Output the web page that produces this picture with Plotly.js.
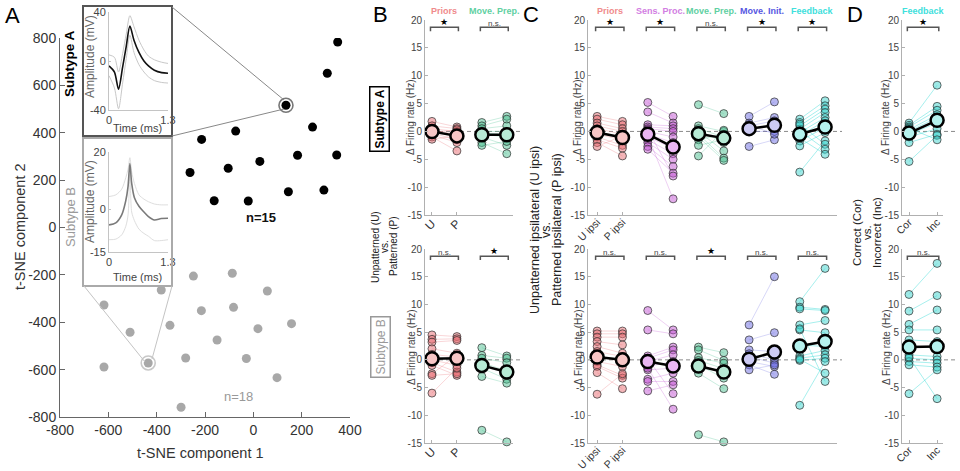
<!DOCTYPE html>
<html><head><meta charset="utf-8">
<script src="https://cdn.plot.ly/plotly-3.0.1.min.js"></script>
<style>html,body{margin:0;padding:0;background:#fff}#chart{width:960px;height:471px}</style>
</head><body><div id="chart"></div>
<script>
// ================= DATA =================
// Panel A: t-SNE embedding
const subtypeA_x = [349, 306, 135, -214, -73, 245, -262, -104, 27, 183, 345, -162, -21, 145, 292];
const subtypeA_y = [783, 651, 516, 372, 407, 424, 232, 250, 279, 305, 306, 113, 112, 151, 158];
const subtypeB_x = [-248, -87, -381, 58, -618, -215, -82, -345, 158, -510, 19, -150, -435, -280, -29, -618, 98, -299];
const subtypeB_y = [-205, -193, -264, -268, -327, -351, -337, -413, -406, -442, -427, -475, -572, -551, -553, -589, -634, -759];
const exampleA_xy = [135, 516];
const exampleB_xy = [-435, -572];
const A_xticks = [-800, -600, -400, -200, 0, 200, 400];
const A_xtickText = ['-800', '-600', '-400', '-200', '0', '200', '400'];
const A_yticks = [-800, -600, -400, -200, 0, 200, 400, 600, 800];
const A_ytickText = ['-800', '-600', '-400', '-200', '0', '200', '400', '600', '800'];

// Inset waveforms (time in ms, amplitude in mV)
const waveA_t     = [0, 0.12, 0.21, 0.30, 0.38, 0.46, 0.55, 0.66, 0.77, 0.87, 1.00, 1.16, 1.30];
const waveA_mean  = [-4, -9, -23, -5, 12, 28.5, 17, 7, 0, -4, -7.5, -9.5, -10];
const waveA_upper = [5, 3, -9, 6, 22, 37, 28, 17, 9, 4, 1, -1, -2];
const waveA_lower = [-12, -22, -39, -18, 2, 21, 7, -3, -9, -13, -16, -17.5, -18];
const waveB_t     = [0, 0.15, 0.28, 0.37, 0.42, 0.46, 0.50, 0.56, 0.66, 0.77, 0.87, 1.00, 1.15, 1.30];
const waveB_mean  = [-5.5, -4.8, -2, 3, 8, 16, 9, 4, 1, -1, -2.6, -3.8, -3.3, -3.2];
const waveB_upper = [4.4, 5, 7, 11, 14, 18, 13, 9, 5, 3.5, 2.6, 1.8, 1.5, 1.5];
const waveB_lower = [-10.7, -10.5, -9, -6, -2, 12.5, -1, -4, -7, -8.5, -9.5, -11, -11, -10.7];
const waveA_yticks = [-40, 0, 40], waveA_ytickText = ['-40', '0', '40'];
const waveB_yticks = [-15, 0, 20], waveB_ytickText = ['-15', '0', '20'];
const wave_xticks = [0, 1.3], wave_xtickText = ['0', '1.3'];

// Firing-rate tick labels
const rate_ticks = [-15, -10, -5, 0, 5, 10, 15, 20];
const rate_tickText = ['-15', '-10', '-5', '0', '5', '10', '15', '20'];
const catB = ['U', 'P'];
const catC = ['U ipsi', 'P ipsi'];
const catD = ['Cor', 'Inc'];

// Panel B, Subtype A (top)
const bA_priors_U = [1.8, 1.0, 0.5, 0.2, 0, -0.3, -0.6, -1.0, -1.4, -0.2];
const bA_priors_P = [0.8, 0.5, 0.0, -0.5, -1.0, -1.5, -2.0, -3.5, -0.8, 0.3];
const bA_mp_U = [1.6, 1.0, 0.5, 0, -0.5, -1.0, -2.0, -2.5, -0.3];
const bA_mp_P = [2.7, 2.2, 1.0, 0, -1.0, -2.5, -4.0, -1.8, -0.5];
const bA_means = [[0, -0.8], [-0.6, -0.6]];
const bA_sig = ['*', 'n.s.'];
// Panel B, Subtype B (bottom)
const bB_priors_U = [4.5, 3.7, 3.2, 2.0, 1.0, 0.5, 0, -0.5, -1.0, -2.5, -2.8, -6.0];
const bB_priors_P = [4.2, 3.8, 3.5, 1.2, 0.5, 0, -1.0, -2.2, -2.8, 0.8, -2.5, -1.5];
const bB_mp_U = [2.2, 0.8, 0.3, -0.5, -1.5, -3.0, -12.7];
const bB_mp_P = [0.7, 0.3, -0.5, -2.0, -3.5, -4.2, -14.8];
const bB_means = [[0.2, 0.3], [-1.0, -2.2]];
const bB_sig = ['n.s.', '*'];

// Panel C, Subtype A (top)
const cA_priors_U = [2.7, 2.2, 1.5, 1.0, 0.5, 0, -0.5, -1.0, -1.5, -2.0, -2.7];
const cA_priors_P = [1.8, 1.2, 0.5, 0, -0.5, -1.0, -1.5, -2.5, -3.0, -4.4, -0.8];
const cA_sens_U = [5.2, 3.5, 1.2, 0.8, 0.5, 0, -0.5, -1.0, -1.5, -2.0, -2.7, -3.2, 0.3, -0.8];
const cA_sens_P = [2.7, 1.5, 1.0, 0.5, 0, -1.0, -2.0, -3.0, -4.0, -5.0, -6.3, -7.5, -8.0, -12.1];
const cA_mp_U = [4.8, 1.0, 0.5, 0.2, 0, -0.5, -1.0, -1.5, -2.5, -4.4];
const cA_mp_P = [3.2, 0, -1.0, -2.0, -3.5, -4.8, -5.2, -0.5, -1.5, 0.2];
const cA_mi_U = [2.7, 1.5, 1.0, 0.5, 0, -2.7, 1.2];
const cA_mi_P = [5.3, 2.5, 1.9, 1.0, 0, -1.5, -0.5];
const cA_fb_U = [2.2, 1.6, 1.0, 0.4, -0.2, -0.8, -1.7, -2.6, -7.3, 1.3, 0.1, -1.2];
const cA_fb_P = [5.5, 4.6, 4.0, 3.4, 2.5, 1.9, 0.7, -0.2, -1.7, -2.3, -3.2, -4.1];
const cA_means = [[-0.2, -1.1], [-0.5, -2.8], [-0.4, -1.2], [0.5, 1.1], [-0.5, 0.8]];
const cA_sig = ['*', '*', 'n.s.', '*', '*'];
// Panel C, Subtype B (bottom)
const cB_priors_U = [5.2, 4.7, 4.1, 3.3, 2.4, 1.5, 0.6, -0.3, -0.9, -1.2, -2.3, -6.2];
const cB_priors_P = [5.2, 4.7, 4.1, 2.7, 1.2, 0.6, -0.3, -1.2, -2.8, -3.3, -5.2, -2.5];
const cB_sens_U = [8.9, 5.4, 0.7, 0.3, -0.3, -1.2, -1.8, -3.5, -3.9, -5.6, 0.2, -1.5];
const cB_sens_P = [5.4, 4.7, 2.3, 1.8, 0.9, -0.3, -1.5, -2.4, -3.9, -4.5, -6.1, -8.9];
const cB_mp_U = [2.3, 1.8, 0.4, -0.1, -0.9, -2.4, -13.5];
const cB_mp_P = [1.3, -0.1, -0.6, -1.6, -3.3, -5.2, -14.8];
const cB_mi_U = [6.3, 3.6, 1.8, 1.1, 0.6, -0.3, -0.9, -1.8];
const cB_mi_P = [15.0, 4.9, 1.5, 0, -0.6, -1.2, -2.6, -0.9];
const cB_fb_U = [10.5, 9.5, 9.2, 6.3, 5.4, 2.7, 0.7, 0.3, -0.1, -8.2, 0.1, 5.6];
const cB_fb_P = [16.5, 9.1, 8.9, 7.1, 4.9, 2.4, 1.7, 0.9, 0.3, -0.3, -2.4, -3.9];
const cB_means = [[0.5, 0.0], [-0.3, -1.1], [-1.1, -2.2], [0.1, 1.4], [2.5, 3.3]];
const cB_sig = ['n.s.', 'n.s.', '*', 'n.s.', 'n.s.'];

// Panel D
const dA_fb_U = [1.5, 1.1, 0.8, 0.3, 0, -0.5, -1.0, -2.0, -5.4, 0.6];
const dA_fb_P = [8.3, 4.5, 3.8, 3.0, 2.5, 1.5, 0.5, -0.5, -0.7, -1.5];
const dA_means = [[-0.3, 2.0]];
const dA_sig = ['*'];
const dB_fb_U = [11.8, 8.8, 6.4, 5.4, 3.6, 2.3, 0.9, 0.3, -0.3, -0.9, -6.1, 0.5];
const dB_fb_P = [17.4, 11.6, 9.0, 5.4, 3.3, 2.3, 0.6, 0, -0.6, -1.3, -1.8, -7.0];
const dB_means = [[2.3, 2.4]];
const dB_sig = ['n.s.'];

const groupLabels = {priors: 'Priors', sens: 'Sens. Proc.', mp: 'Move. Prep.', mi: 'Move. Init.', fb: 'Feedback'};

// ================= STYLE =================
const STYLE = {
  priors: {pt: 'rgba(232,108,114,0.5)', line: 'rgba(235,120,125,0.30)', mean: '#f7c6c6', label: '#f08a8c'},
  sens:   {pt: 'rgba(196,88,212,0.5)',  line: 'rgba(200,100,215,0.30)', mean: '#e9b6f2', label: '#d27de2'},
  mp:     {pt: 'rgba(78,192,146,0.5)',  line: 'rgba(80,195,150,0.30)',  mean: '#b7ead5', label: '#5fd0a2'},
  mi:     {pt: 'rgba(108,108,226,0.5)', line: 'rgba(110,110,225,0.28)', mean: '#cccaf3', label: '#5656e2'},
  fb:     {pt: 'rgba(62,212,206,0.5)',  line: 'rgba(60,220,215,0.45)',  mean: '#b5f2ee', label: '#40e0dc'}
};
const FONT = 'Liberation Sans, Arial, Helvetica, sans-serif';
const W = 960, H = 471;
const PX = x => x / W;
const PY = y => 1 - y / H;

const traces = [], shapes = [], annotations = [];
const layout = {
  width: W, height: H, margin: {l: 0, r: 0, t: 0, b: 0},
  paper_bgcolor: '#fff', plot_bgcolor: 'rgba(0,0,0,0)',
  showlegend: false, font: {family: FONT, color: '#333'}, hovermode: false
};
function ax(extra) {
  return Object.assign({showgrid: false, zeroline: false, showline: true, ticks: 'inside',
    automargin: false, fixedrange: true, tickmode: 'array'}, extra);
}
function ann(x, y, text, size, color, extra) {
  annotations.push(Object.assign({xref: 'paper', yref: 'paper', x: PX(x), y: PY(y), text: text,
    showarrow: false, font: {family: FONT, size: size, color: color}, xanchor: 'center', yanchor: 'middle'}, extra || {}));
}

// ================= PANEL A =================
layout.xaxis = ax({domain: [PX(60), PX(350)], range: [-800, 400], anchor: 'y', tickvals: A_xticks, ticktext: A_xtickText,
  linecolor: '#666', tickcolor: '#666', ticklen: 5, tickfont: {size: 14, color: '#333'}});
layout.yaxis = ax({domain: [PY(417), PY(38)], range: [-800, 800], anchor: 'x', tickvals: A_yticks, ticktext: A_ytickText,
  linecolor: '#666', tickcolor: '#666', ticklen: 5, tickfont: {size: 14, color: '#333'}});

traces.push({type: 'scatter', mode: 'markers', x: subtypeB_x, y: subtypeB_y, xaxis: 'x', yaxis: 'y',
  marker: {size: 9, color: '#a8a8a8'}});
traces.push({type: 'scatter', mode: 'markers', x: subtypeA_x, y: subtypeA_y, xaxis: 'x', yaxis: 'y',
  marker: {size: 9, color: '#000'}});
traces.push({type: 'scatter', mode: 'markers', x: [exampleA_xy[0]], y: [exampleA_xy[1]], xaxis: 'x', yaxis: 'y',
  marker: {size: 14, symbol: 'circle-open', color: '#777', line: {width: 1.6, color: '#777'}}});
traces.push({type: 'scatter', mode: 'markers', x: [exampleB_xy[0]], y: [exampleB_xy[1]], xaxis: 'x', yaxis: 'y',
  marker: {size: 14, symbol: 'circle-open', color: '#c8c8c8', line: {width: 1.6, color: '#c8c8c8'}}});

ann(200, 453, 't-SNE component 1', 14.5, '#333');
ann(20, 227, 't-SNE component 2', 14.5, '#333', {textangle: -90});
ann(261, 217, '<b>n=15</b>', 13, '#111');
ann(238, 396, 'n=18', 13, '#999');

// Insets
layout.xaxis2 = ax({domain: [PX(109), PX(168)], range: [0, 1.3], anchor: 'y2', tickvals: wave_xticks, ticktext: wave_xtickText,
  linecolor: '#c4c4c4', tickcolor: '#c4c4c4', ticklen: 2, tickfont: {size: 11, color: '#444'}});
layout.yaxis2 = ax({domain: [PY(110), PY(12)], range: [-40, 40], anchor: 'x2', tickvals: waveA_yticks, ticktext: waveA_ytickText,
  linecolor: '#c4c4c4', tickcolor: '#c4c4c4', ticklen: 2, tickfont: {size: 11, color: '#444'}});
layout.xaxis3 = ax({domain: [PX(109), PX(168)], range: [0, 1.3], anchor: 'y3', tickvals: wave_xticks, ticktext: wave_xtickText,
  linecolor: '#c4c4c4', tickcolor: '#c4c4c4', ticklen: 2, tickfont: {size: 11, color: '#444'}});
layout.yaxis3 = ax({domain: [PY(252), PY(152)], range: [-15, 20], anchor: 'x3', tickvals: waveB_yticks, ticktext: waveB_ytickText,
  linecolor: '#c4c4c4', tickcolor: '#c4c4c4', ticklen: 2, tickfont: {size: 11, color: '#444'}});

[[waveA_upper, '#c8c8c8', 1], [waveA_lower, '#c8c8c8', 1], [waveA_mean, '#111', 1.6]].forEach(([y, c, w]) =>
  traces.push({type: 'scatter', mode: 'lines', x: waveA_t, y: y, xaxis: 'x2', yaxis: 'y2', line: {color: c, width: w, shape: 'spline', smoothing: 0.8}}));
[[waveB_upper, '#dedede', 1], [waveB_lower, '#dedede', 1], [waveB_mean, '#7a7a7a', 1.6]].forEach(([y, c, w]) =>
  traces.push({type: 'scatter', mode: 'lines', x: waveB_t, y: y, xaxis: 'x3', yaxis: 'y3', line: {color: c, width: w, shape: 'spline', smoothing: 0.8}}));

shapes.push({type: 'rect', xref: 'paper', yref: 'paper', x0: PX(83), x1: PX(172), y0: PY(136), y1: PY(6), line: {color: '#555', width: 2}});
shapes.push({type: 'rect', xref: 'paper', yref: 'paper', x0: PX(83), x1: PX(172), y0: PY(286), y1: PY(138), line: {color: '#aaa', width: 2}});
shapes.push({type: 'line', xref: 'paper', yref: 'paper', x0: PX(172), y0: PY(7), x1: PX(284), y1: PY(100), line: {color: '#888', width: 1}});
shapes.push({type: 'line', xref: 'paper', yref: 'paper', x0: PX(172), y0: PY(136), x1: PX(284), y1: PY(109), line: {color: '#888', width: 1}});
shapes.push({type: 'line', xref: 'paper', yref: 'paper', x0: PX(84), y0: PY(286), x1: PX(145), y1: PY(362), line: {color: '#c4c4c4', width: 1}});
shapes.push({type: 'line', xref: 'paper', yref: 'paper', x0: PX(172), y0: PY(286), x1: PX(152), y1: PY(359), line: {color: '#c4c4c4', width: 1}});

ann(70, 64, '<b>Subtype A</b>', 13.5, '#000', {textangle: -90});
ann(70, 217, 'Subtype B', 13, '#9a9a9a', {textangle: -90});
ann(90, 57, 'Amplitude (mV)', 12, '#666', {textangle: -90});
ann(90, 202, 'Amplitude (mV)', 12, '#666', {textangle: -90});
ann(137, 128, 'Time (ms)', 11, '#444');
ann(137, 277, 'Time (ms)', 11, '#444');

// ================= PANELS B, C, D =================
function rateAxes(xn, yn, xd, yd, xr, cats, catSize) {
  const xi = xn.replace('xaxis', 'x'), yi = yn.replace('yaxis', 'y');
  layout[xn] = ax({domain: [PX(xd[0]), PX(xd[1])], range: xr, anchor: yi, tickvals: [1, 2], ticktext: cats,
    tickangle: -45, ticklabelstandoff: -4, linecolor: '#b0b0b0', tickcolor: '#b0b0b0', ticklen: 3,
    tickfont: {size: catSize, color: '#333'}});
  layout[yn] = ax({domain: [PY(yd[1]), PY(yd[0])], range: [-15, 20], anchor: xi, tickvals: rate_ticks, ticktext: rate_tickText,
    linecolor: '#b0b0b0', tickcolor: '#b0b0b0', ticklen: 3, tickfont: {size: 10, color: '#444'}});
}
function pairPanel(xa, ya, keys, data, means, sig, top, zeroX) {
  shapes.push({type: 'line', xref: 'paper', yref: ya, x0: PX(zeroX[0]), x1: PX(zeroX[1]), y0: 0, y1: 0, layer: 'below',
    line: {color: '#8a8a8a', width: 1, dash: '4px,3px'}});
  keys.forEach((key, i) => {
    const st = STYLE[key];
    const U = data[i][0], P = data[i][1];
    const xu = 2 * i + 1, xp = 2 * i + 2;
    const lx = [], ly = [];
    U.forEach((u, j) => { lx.push(xu, xp, null); ly.push(u, P[j], null); });
    traces.push({type: 'scatter', mode: 'lines', x: lx, y: ly, xaxis: xa, yaxis: ya, line: {color: st.line, width: 1}, cliponaxis: false});
    traces.push({type: 'scatter', mode: 'markers', x: U.map(() => xu).concat(P.map(() => xp)), y: U.concat(P), xaxis: xa, yaxis: ya,
      cliponaxis: false, marker: {size: 8, color: st.pt, line: {color: 'rgba(45,45,45,0.7)', width: 1}}});
    traces.push({type: 'scatter', mode: 'lines+markers', x: [xu, xp], y: means[i], xaxis: xa, yaxis: ya, cliponaxis: false,
      line: {color: '#000', width: 2.5}, marker: {size: 13, color: st.mean, line: {color: '#000', width: 2.5}}});
    shapes.push({type: 'path', xref: xa, yref: ya, path: `M ${xu - 0.06},18.0 L ${xu - 0.06},18.7 L ${xp + 0.06},18.7 L ${xp + 0.06},18.0`,
      line: {color: '#555', width: 1.5}});
    annotations.push({xref: xa, yref: ya, x: (xu + xp) / 2, y: 18.7, yanchor: 'bottom', xanchor: 'center', showarrow: false,
      text: sig[i] === '*' ? '★' : 'n.s.', yshift: sig[i] === '*' ? -2 : -3,
      font: {family: FONT, size: sig[i] === '*' ? 9 : 8, color: sig[i] === '*' ? '#000' : '#444'}});
    if (top) annotations.push({xref: xa, yref: 'paper', x: (xu + xp) / 2, y: PY(11), xanchor: 'center', yanchor: 'middle',
      showarrow: false, text: '<b>' + groupLabels[key] + '</b>', font: {family: FONT, size: 9, color: st.label}});
  });
}

// B
rateAxes('xaxis4', 'yaxis4', [425, 513], [20, 215], [0.72, 4.25], catB, 12);
rateAxes('xaxis5', 'yaxis5', [425, 513], [249, 443], [0.72, 4.25], catB, 12);
pairPanel('x4', 'y4', ['priors', 'mp'], [[bA_priors_U, bA_priors_P], [bA_mp_U, bA_mp_P]], bA_means, bA_sig, true, [425, 520]);
pairPanel('x5', 'y5', ['priors', 'mp'], [[bB_priors_U, bB_priors_P], [bB_mp_U, bB_mp_P]], bB_means, bB_sig, false, [425, 520]);
// C
rateAxes('xaxis6', 'yaxis6', [588, 837], [20, 215], [0.64, 10.47], catC, 10.5);
rateAxes('xaxis7', 'yaxis7', [588, 837], [249, 443], [0.64, 10.47], catC, 10.5);
const cKeys = ['priors', 'sens', 'mp', 'mi', 'fb'];
pairPanel('x6', 'y6', cKeys, [[cA_priors_U, cA_priors_P], [cA_sens_U, cA_sens_P], [cA_mp_U, cA_mp_P], [cA_mi_U, cA_mi_P], [cA_fb_U, cA_fb_P]], cA_means, cA_sig, true, [588, 842]);
pairPanel('x7', 'y7', cKeys, [[cB_priors_U, cB_priors_P], [cB_sens_U, cB_sens_P], [cB_mp_U, cB_mp_P], [cB_mi_U, cB_mi_P], [cB_fb_U, cB_fb_P]], cB_means, cB_sig, false, [588, 842]);
// D
rateAxes('xaxis8', 'yaxis8', [902, 943], [20, 215], [0.75, 2.21], catD, 10.5);
rateAxes('xaxis9', 'yaxis9', [902, 943], [249, 443], [0.75, 2.21], catD, 10.5);
pairPanel('x8', 'y8', ['fb'], [[dA_fb_U, dA_fb_P]], dA_means, dA_sig, true, [902, 958]);
pairPanel('x9', 'y9', ['fb'], [[dB_fb_U, dB_fb_P]], dB_means, dB_sig, false, [902, 958]);

// y titles
[[411, 117], [411, 347], [578, 117], [578, 347], [886, 117], [886, 347]].forEach(([x, y]) =>
  ann(x, y, 'Δ Firing rate (Hz)', 10, '#444', {textangle: -90}));
// subtype boxes in B
ann(380, 119, '<b>Subtype A</b>', 12, '#000', {textangle: -90, bordercolor: '#000', borderwidth: 1.5, borderpad: 2});
ann(380, 347, 'Subtype B', 12, '#999', {textangle: -90, bordercolor: '#999', borderwidth: 1.5, borderpad: 2});
// row-comparison titles
ann(375, 247, 'Unpatterned (U)', 10, '#222', {textangle: -90});
ann(384, 247, 'vs.', 10, '#222', {textangle: -90});
ann(393, 247, 'Patterned (P)', 10, '#222', {textangle: -90});
ann(535, 230, 'Unpatterned ipsilateral (U ipsi)', 12.5, '#222', {textangle: -90});
ann(546, 230, 'vs.', 12.5, '#222', {textangle: -90});
ann(557, 230, 'Patterned ipsilateral (P ipsi)', 12.5, '#222', {textangle: -90});
ann(857, 233, 'Correct (Cor)', 11.5, '#222', {textangle: -90});
ann(867, 233, 'vs.', 11.5, '#222', {textangle: -90});
ann(877, 233, 'Incorrect (Inc)', 11.5, '#222', {textangle: -90});

// panel letters
ann(12, 16, 'A', 22, '#000');
ann(380, 15, 'B', 22, '#000');
ann(531, 15, 'C', 22, '#000');
ann(855, 15, 'D', 22, '#000');

layout.shapes = shapes;
layout.annotations = annotations;
Plotly.newPlot('chart', traces, layout, {staticPlot: true, displayModeBar: false});
</script></body></html>
